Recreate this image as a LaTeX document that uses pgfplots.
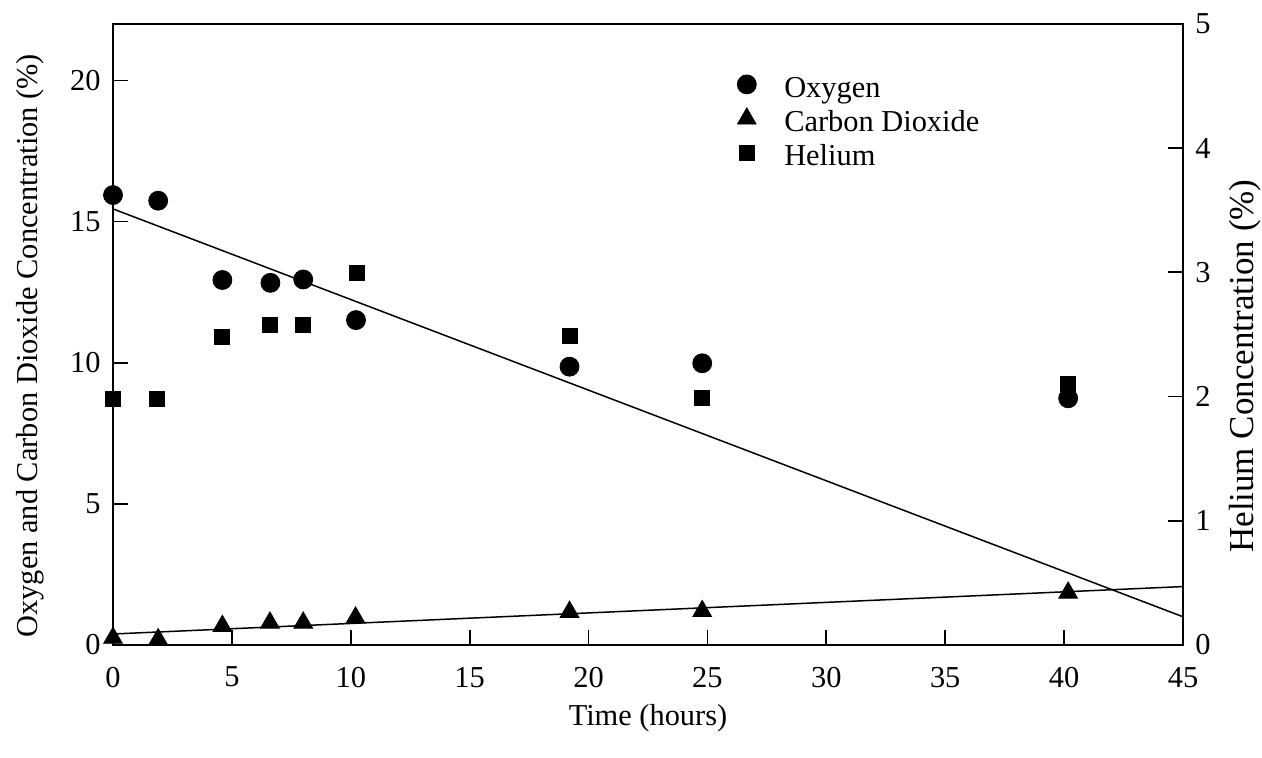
\documentclass[border=0pt]{standalone}
\usepackage{fontspec}
\setmainfont{Liberation Serif}
\usepackage{pgfplots}
\pgfplotsset{compat=1.18}
\usetikzlibrary{calc}
\newcommand{\cf}{\fontsize{15.2bp}{18bp}\selectfont}
\newcommand{\rf}{\fontsize{17.5bp}{20bp}\selectfont}
\begin{document}
\begin{tikzpicture}
\begin{axis}[
  name=ax,
  scale only axis, width=535bp, height=310.5bp,
  xmin=0, xmax=45, ymin=0, ymax=22,
  xtick={0,5,...,45}, ytick={0,5,10,15,20},
  tick pos=left, tick align=inside,
  major tick length=7.5bp,
  axis line style={line width=1bp}, every tick/.style={line width=0.9bp, black},
  /pgf/number format/assume math mode=true,
  tick label style={font=\cf},
  xticklabel style={yshift=-7.5bp},
  yticklabel style={xshift=-2.7bp},
  label style={font=\cf},
  xlabel={Time (hours)},
  ylabel={Oxygen and Carbon Dioxide Concentration (\%)},
  xlabel style={at={(axis description cs:0.5,-0.1175)}, anchor=center},
  ylabel style={at={(axis description cs:-0.0776,0.482)}, anchor=center},
  clip=false,
  legend style={draw=none, fill=none, font=\cf, at={(axis description cs:0.5775,0.9267)}, anchor=north west, row sep=0bp, column sep=12bp,
    nodes={text height=11bp, text depth=4.5bp, inner ysep=0.75bp}},
  legend image post style={yshift=3.25bp},
  legend cell align=left,
]
\addplot[only marks, mark=*, mark size=4.75bp, black] coordinates {
 (0,15.94) (1.9,15.74) (4.6,12.93) (6.62,12.83) (8.0,12.95) (10.22,11.51) (19.2,9.86) (24.78,9.98) (40.17,8.74)};
\addlegendentry{Oxygen}
\addplot[only marks, mark=triangle*, mark size=5.4bp, black] coordinates {
 (0,0.25) (1.9,0.2) (4.6,0.67) (6.6,0.79) (8.0,0.79) (10.2,0.97) (19.2,1.17) (24.78,1.2) (40.17,1.85)};
\addlegendentry{Carbon Dioxide}
\addlegendimage{only marks, mark=square*, mark size=3.75bp, black}
\addlegendentry{Helium}
\addplot[black, line width=0.75bp, mark=none, forget plot] coordinates {(0,15.45) (45,1.0)};
\addplot[black, line width=0.75bp, mark=none, forget plot] coordinates {(0,0.39) (45,2.07)};
\end{axis}
\begin{axis}[
  scale only axis, width=535bp, height=310.5bp,
  xmin=0, xmax=45, ymin=0, ymax=5,
  axis x line=none, axis y line*=right,
  ytick={0,1,...,5}, ytick pos=right, tick align=inside,
  major tick length=7.5bp,
  axis line style={line width=1bp}, every tick/.style={line width=0.9bp, black},
  /pgf/number format/assume math mode=true,
  tick label style={font=\cf},
  yticklabel style={xshift=2.7bp},
  label style={font=\rf},
  ylabel={Helium Concentration (\%)},
  ylabel style={at={(axis description cs:1.058,0.449)}, anchor=center, rotate=0},
  clip=false,
]
\addplot[only marks, mark=square*, mark size=3.75bp, black] coordinates {
 (0,1.98) (1.86,1.98) (4.6,2.48) (6.6,2.58) (8.0,2.58) (10.25,3.0) (19.2,2.49) (24.78,1.99) (40.17,2.10)};
\end{axis}
\pgfresetboundingbox
\path[use as bounding box] ($(ax.south west)+(-56.5bp,-56.5bp)$) rectangle ($(ax.north east)+(39.5bp,12bp)$);
\end{tikzpicture}
\end{document}
